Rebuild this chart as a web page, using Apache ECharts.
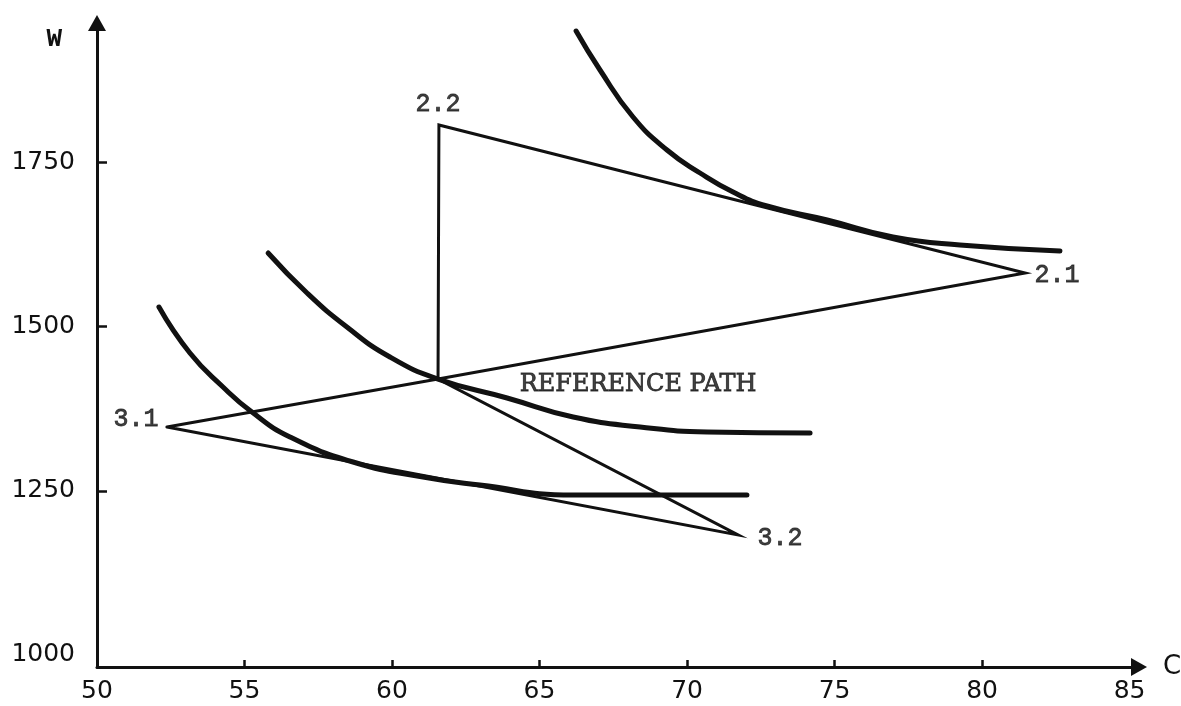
<!DOCTYPE html>
<html>
<head>
<meta charset="utf-8">
<script src="https://cdn.jsdelivr.net/npm/echarts@6/dist/echarts.min.js"></script>
<style>
html,body{margin:0;padding:0;background:#ffffff;}
#chart{width:1181px;height:706px;}
</style>
</head>
<body>
<div id="chart"></div>
<script>
// ---- data ----
const xTickLabels = [50, 55, 60, 65, 70, 75, 80, 85];
const xTickMarks = [55, 60, 65, 70, 75, 80];
const yTickLabels = [1000, 1250, 1500, 1750];
const yTickMarks = [1250, 1500, 1750];

// upper indifference curve (through the 2.x region)
const curveHigh = [
  [66.24, 1950.5], [67.05, 1891.1], [68.17, 1819.5], [69.32, 1769.2],
  [70.44, 1734.2], [71.56, 1705.2], [72.71, 1683.9], [74.75, 1662.6],
  [76.98, 1636.7], [79.25, 1624.5], [82.64, 1615.3]
];
// middle curve
const curveMid = [
  [55.80, 1612.3], [57.12, 1551.3], [58.47, 1499.5], [59.93, 1453.8],
  [61.56, 1420.3], [63.90, 1391.4], [66.14, 1362.4], [68.41, 1347.2],
  [70.68, 1339.6], [74.17, 1338.1]
];
// lower curve
const curveLow = [
  [52.10, 1530.0], [53.15, 1459.9], [54.27, 1408.1], [55.25, 1370.0],
  [56.54, 1332.0], [58.68, 1293.9], [61.05, 1271.0], [62.98, 1258.8],
  [66.14, 1243.6], [68.98, 1243.6], [72.03, 1243.6]
];
// reference path: 3.1 -> centre -> 2.1 -> 2.2 -> centre -> 3.2 -> 3.1
const referencePath = [
  [52.37, 1347.2], [61.56, 1420.3], [81.46, 1581.8], [61.59, 1807.3],
  [61.56, 1420.3], [71.73, 1182.7], [52.37, 1347.2]
];
const pointNames = ['3.1', '2.1', '2.2', '3.2'];
const pointCoords = [[52.37, 1347.2], [81.46, 1581.8], [61.59, 1807.3], [71.73, 1182.7]];
const annotationText = ['REFERENCE PATH'];
const annotationCoords = [[68.34, 1411.2]];

// ---- styling ----
const INK = '#111111';
const labelOffsets = { '3.1': [-31, -8], '2.1': [32, 2], '2.2': [-1, -21], '3.2': [42, 3] };

const chart = echarts.init(document.getElementById('chart'), null, { renderer: 'canvas' });

function curveSeries(data) {
  return {
    type: 'line', data: data, smooth: 0.5,
    showSymbol: false, symbol: 'none', silent: true,
    lineStyle: { color: INK, width: 5, cap: 'round', join: 'round' },
    z: 3
  };
}

const option = {
  backgroundColor: '#ffffff',
  animation: false,
  grid: { left: 97, right: 42, top: 23, bottom: 39, containLabel: false, outerBoundsMode: 'none' },
  xAxis: {
    type: 'value', min: 50, max: 85.32,
    name: 'C', nameLocation: 'end', nameGap: 24,
    nameTextStyle: { fontFamily: 'DejaVu Sans', fontSize: 26, color: INK, verticalAlign: 'middle' },
    axisLine: { onZero: false, symbol: ['none', 'triangle'], symbolSize: [18, 16],
      lineStyle: { color: INK, width: 3 } },
    axisTick: { show: true, inside: true, length: 7, customValues: xTickMarks,
      lineStyle: { color: INK, width: 2.5 } },
    axisLabel: { customValues: xTickLabels, margin: 12, fontFamily: 'DejaVu Sans',
      fontSize: 25, color: INK, formatter: v => String(v) },
    splitLine: { show: false }
  },
  yAxis: {
    type: 'value', min: 981.6, max: 1962.7,
    name: 'W', nameLocation: 'end', nameGap: -16,
    nameTextStyle: { fontFamily: 'Liberation Mono', fontWeight: 'bold', fontSize: 26, color: INK,
      align: 'right', verticalAlign: 'middle', padding: [0, 35, 0, 0] },
    axisLine: { onZero: false, symbol: ['none', 'triangle'], symbolSize: [18, 16],
      lineStyle: { color: INK, width: 3 } },
    axisTick: { show: true, inside: true, length: 10, customValues: yTickMarks,
      lineStyle: { color: INK, width: 2.5 } },
    axisLabel: { customValues: yTickLabels, margin: 22, fontFamily: 'DejaVu Sans',
      fontSize: 25, color: INK, padding: [0, 0, 12, 0], formatter: v => String(v) },
    splitLine: { show: false }
  },
  series: [
    curveSeries(curveHigh),
    curveSeries(curveMid),
    curveSeries(curveLow),
    {
      type: 'line', data: referencePath, smooth: false,
      showSymbol: false, symbol: 'none', silent: true,
      lineStyle: { color: INK, width: 3, join: 'miter', cap: 'round' },
      z: 2
    },
    {
      type: 'scatter', silent: true, symbolSize: 1,
      itemStyle: { color: 'rgba(0,0,0,0)' },
      data: pointNames.map((n, i) => ({
        name: n, value: pointCoords[i],
        label: { show: true, position: 'inside', offset: labelOffsets[n], formatter: n,
          fontFamily: 'Liberation Mono', fontSize: 25, color: INK,
          textBorderColor: INK, textBorderWidth: 0.8 }
      })),
      z: 5
    },
    {
      type: 'scatter', silent: true, symbolSize: 1,
      itemStyle: { color: 'rgba(0,0,0,0)' },
      data: annotationText.map((t, i) => ({
        name: t, value: annotationCoords[i],
        label: { show: true, position: 'inside', formatter: t,
          fontFamily: 'DejaVu Serif', fontSize: 24, color: INK,
          textBorderColor: INK, textBorderWidth: 0.8 }
      })),
      z: 5
    }
  ]
};
chart.setOption(option);
</script>
</body>
</html>
